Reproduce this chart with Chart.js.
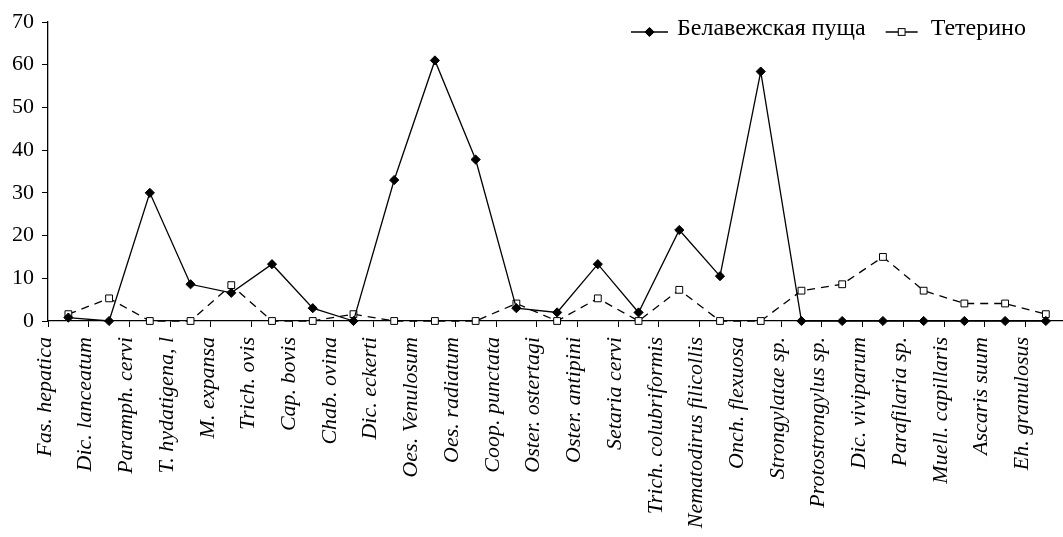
<!DOCTYPE html>
<html>
<head>
<meta charset="utf-8">
<script src="https://cdn.jsdelivr.net/npm/chart.js@4"></script>
<style>
  html, body { margin: 0; padding: 0; background: #fff; overflow: hidden; }
  #wrap { width: 1072px; height: 537px; }
</style>
</head>
<body>
<div id="wrap"><canvas id="c" width="1072" height="537"></canvas></div>
<script>
// Parasite species (x axis)
const categories = [
  'Fas. hepatica', 'Dic. lanceatum', 'Paramph. cervi', 'T. hydatigena, l',
  'M. expansa', 'Trich. ovis', 'Cap. bovis', 'Chab. ovina', 'Dic. eckerti',
  'Oes. Venulosum', 'Oes. radiatum', 'Coop. punctata', 'Oster. ostertagi',
  'Oster. antipini', 'Setaria cervi', 'Trich. colubriformis',
  'Nematodirus filicollis', 'Onch. flexuosa', 'Strongylatae sp.',
  'Protostrongylus sp.', 'Dic. viviparum', 'Parafilaria sp.',
  'Muell. capillaris', 'Ascaris suum', 'Eh. granulosus'
];

// Series names
const seriesNames = ['Белавежская пуща', 'Тетерино'];

// Values per species
const belovezhValues = [
  0.8, 0, 30, 8.6, 6.6, 13.3, 3.0, 0, 33, 61, 37.8, 3.0, 2.0,
  13.3, 2.0, 21.3, 10.5, 58.4, 0, 0, 0, 0, 0, 0, 0
];
const teterinoValues = [
  1.6, 5.3, 0, 0, 8.4, 0, 0, 1.6, 0, 0, 0, 4.1, 0,
  5.3, 0, 7.3, 0, 0, 7.1, 8.6, 15.0, 7.1, 4.1, 4.1, 1.6
];

// Y axis tick values
const yTicks = [0, 10, 20, 30, 40, 50, 60, 70];

const FONT = 'Liberation Serif';

// Legend drawn inside the plot, top right
const legendPlugin = {
  id: 'lineLegend',
  afterDraw(chart) {
    const ctx = chart.ctx;
    ctx.save();
    ctx.font = '24px "' + FONT + '"';
    ctx.textBaseline = 'alphabetic';
    let x = 631;
    const lineY = 32;
    const textY = 35;
    chart.data.datasets.forEach((ds, i) => {
      const segW = i === 0 ? 37 : 32;
      const cx = x + segW / 2;
      ctx.strokeStyle = '#000';
      ctx.lineWidth = 1.3;
      ctx.setLineDash([]);
      ctx.beginPath();
      ctx.moveTo(x, lineY);
      ctx.lineTo(x + segW, lineY);
      ctx.stroke();
      ctx.fillStyle = ds.pointBackgroundColor;
      ctx.lineWidth = ds.pointBorderWidth;
      if (ds.pointStyle === 'rectRot') {
        const r = ds.pointRadius;
        ctx.beginPath();
        ctx.moveTo(cx, lineY - r);
        ctx.lineTo(cx + r, lineY);
        ctx.lineTo(cx, lineY + r);
        ctx.lineTo(cx - r, lineY);
        ctx.closePath();
        ctx.fill();
        ctx.stroke();
      } else {
        const s = ds.pointRadius * Math.SQRT1_2;
        ctx.fillRect(cx - s, lineY - s, 2 * s, 2 * s);
        ctx.strokeRect(cx - s, lineY - s, 2 * s, 2 * s);
      }
      ctx.fillStyle = '#000';
      const tx = x + segW + (i === 0 ? 9 : 13);
      ctx.fillText(ds.label, tx, textY);
      x = tx + ctx.measureText(ds.label).width + 20;
    });
    ctx.restore();
  }
};

new Chart(document.getElementById('c'), {
  type: 'line',
  data: {
    labels: categories,
    datasets: [
      {
        label: seriesNames[0],
        data: belovezhValues,
        borderColor: '#000',
        borderWidth: 1.3,
        pointStyle: 'rectRot',
        pointRadius: 4.6,
        pointBackgroundColor: '#000',
        pointBorderColor: '#000',
        pointBorderWidth: 1,
        tension: 0,
        clip: false
      },
      {
        label: seriesNames[1],
        data: teterinoValues,
        borderColor: '#000',
        borderWidth: 1.3,
        borderDash: [8, 6],
        pointStyle: 'rect',
        pointRadius: 4.8,
        pointBackgroundColor: '#fff',
        pointBorderColor: '#000',
        pointBorderWidth: 1,
        tension: 0,
        clip: false
      }
    ]
  },
  options: {
    responsive: false,
    animation: false,
    layout: { padding: { top: 22, right: 0, left: 0, bottom: 0 } },
    plugins: {
      legend: { display: false },
      tooltip: { enabled: false }
    },
    scales: {
      x: {
        type: 'category',
        offset: true,
        afterFit(scale) {
          scale.height = 216;
          scale.paddingLeft = 0;
          scale.paddingRight = 0;
        },
        grid: {
          offset: true,
          drawOnChartArea: false,
          drawTicks: true,
          tickLength: 6,
          tickColor: '#000',
          tickWidth: 1
        },
        border: { color: '#000', width: 1.3 },
        ticks: {
          color: '#000',
          font: { family: FONT, size: 22, style: 'italic' },
          minRotation: 90,
          maxRotation: 90,
          autoSkip: false,
          padding: 10,
          labelOffset: -23.5
        }
      },
      y: {
        min: 0,
        max: 70,
        afterFit(scale) { scale.width = 48; },
        afterBuildTicks(scale) { scale.ticks = yTicks.map(v => ({ value: v })); },
        grid: {
          drawOnChartArea: false,
          drawTicks: true,
          tickLength: 6,
          tickColor: '#000',
          tickWidth: 1
        },
        border: { color: '#000', width: 1.3 },
        ticks: {
          color: '#000',
          font: { family: FONT, size: 22 },
          padding: 8
        }
      }
    }
  },
  plugins: [legendPlugin]
});
</script>
</body>
</html>
